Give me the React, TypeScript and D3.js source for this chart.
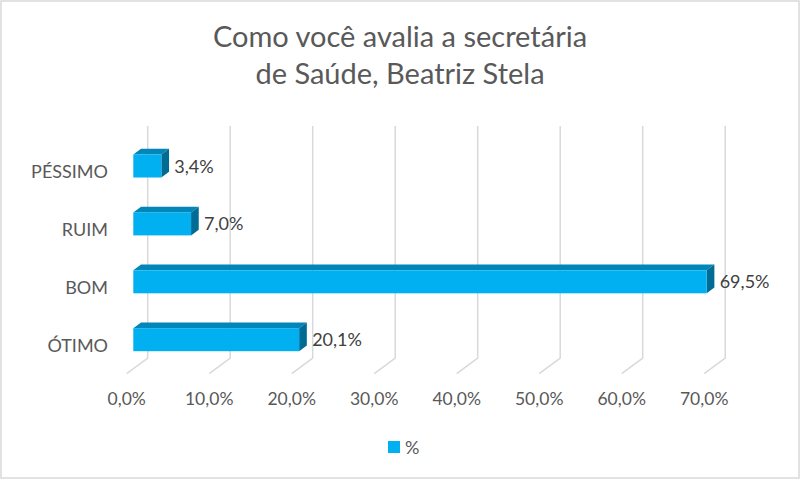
import { useEffect, useRef } from "react"
import * as d3 from "d3"

// chart data, top to bottom as in the picture
const categories = ["PÉSSIMO", "RUIM", "BOM", "ÓTIMO"]
const values = [3.4, 7.0, 69.5, 20.1]
const ticks = [0, 10, 20, 30, 40, 50, 60, 70]
const titleLines = ["Como você avalia a secretária", "de Saúde, Beatriz Stela"]
const seriesName = "%"

const FONT = "Lato, 'Open Sans', sans-serif"
const fmt = (v: number) => v.toFixed(1).replace(".", ",") + "%"

export default function App() {
  const svgRef = useRef<SVGSVGElement>(null)

  useEffect(() => {
    if (!svgRef.current) return
    const svg = d3.select(svgRef.current)
    svg.selectAll("*").remove()

    // border
    svg
      .append("rect")
      .attr("x", 1)
      .attr("y", 1)
      .attr("width", 798)
      .attr("height", 477)
      .attr("fill", "#fff")
      .attr("stroke", "#d9d9d9")
      .attr("stroke-width", 1.5)

    // title
    svg
      .append("g")
      .selectAll("text")
      .data(titleLines)
      .enter()
      .append("text")
      .attr("x", 400)
      .attr("y", (_d, i) => 47 + i * 37)
      .attr("text-anchor", "middle")
      .attr("font-family", FONT)
      .attr("font-size", 29)
      .attr("fill", "#595959")
      .text((d) => d)

    // 3d geometry
    const backX = 147.7
    const frontX = 133.3
    const floorDx = -21
    const floorDy = 15.6
    const gridTop = 126
    const gridBottom = 358
    const depthDx = 7.7
    const depthDy = -5.7
    const barH = 23

    const x = d3.scaleLinear().domain([0, 70]).range([0, 577.5])
    const y = d3.scalePoint<string>().domain(categories).range([166, 339.7])

    // gridlines: back wall + floor diagonal
    const grid = svg.append("g")
    grid
      .selectAll("path")
      .data(ticks)
      .enter()
      .append("path")
      .attr("d", (t) => {
        const gx = backX + x(t)
        return `M${gx},${gridTop}V${gridBottom}L${gx + floorDx},${gridBottom + floorDy}`
      })
      .attr("fill", "none")
      .attr("stroke", "#d9d9d9")
      .attr("stroke-width", 1.5)

    // tick labels
    svg
      .append("g")
      .selectAll("text")
      .data(ticks)
      .enter()
      .append("text")
      .attr("x", (t) => backX + x(t) + floorDx)
      .attr("y", 405)
      .attr("text-anchor", "middle")
      .attr("font-family", FONT)
      .attr("font-size", 17.5)
      .attr("fill", "#595959")
      .text((t) => fmt(t))

    // category labels
    svg
      .append("g")
      .selectAll("text")
      .data(categories)
      .enter()
      .append("text")
      .attr("x", 108)
      .attr("y", (c) => (y(c) || 0) + 12)
      .attr("text-anchor", "end")
      .attr("font-family", FONT)
      .attr("font-size", 18)
      .attr("fill", "#595959")
      .text((c) => c)

    // bars
    const rows = categories.map((c, i) => ({ c, v: values[i] }))
    const bars = svg.append("g").selectAll("g").data(rows).enter().append("g")

    bars
      .append("path")
      .attr("d", (d) => {
        const x0 = frontX
        const x1 = frontX + x(d.v)
        const top = (y(d.c) || 0) - barH / 2
        return `M${x0},${top}L${x0 + depthDx},${top + depthDy}H${x1 + depthDx}L${x1},${top}Z`
      })
      .attr("fill", "#0086b8")

    bars
      .append("path")
      .attr("d", (d) => {
        const x1 = frontX + x(d.v)
        const top = (y(d.c) || 0) - barH / 2
        return `M${x1},${top}L${x1 + depthDx},${top + depthDy}V${top + barH + depthDy}L${x1},${top + barH}Z`
      })
      .attr("fill", "#006c94")

    bars
      .append("rect")
      .attr("x", frontX)
      .attr("y", (d) => (y(d.c) || 0) - barH / 2)
      .attr("width", (d) => x(d.v))
      .attr("height", barH)
      .attr("fill", "#00b0f0")

    // value labels
    bars
      .append("text")
      .attr("x", (d) => frontX + x(d.v) + 13)
      .attr("y", (d) => (y(d.c) || 0) + 6.5)
      .attr("font-family", FONT)
      .attr("font-size", 18)
      .attr("fill", "#404040")
      .text((d) => fmt(d.v))

    // legend
    const legend = svg.append("g")
    legend
      .append("rect")
      .attr("x", 388)
      .attr("y", 441)
      .attr("width", 12)
      .attr("height", 12)
      .attr("fill", "#00b0f0")
    legend
      .append("text")
      .attr("x", 405)
      .attr("y", 454)
      .attr("font-family", FONT)
      .attr("font-size", 18)
      .attr("fill", "#595959")
      .text(seriesName)
  }, [])

  return (
    <svg
      ref={svgRef}
      width={800}
      height={480}
      style={{ position: "absolute", left: 0, top: 0 }}
    />
  )
}
